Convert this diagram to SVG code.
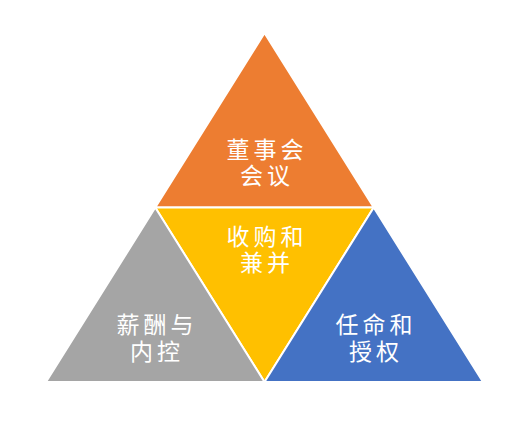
<svg xmlns="http://www.w3.org/2000/svg" width="523" height="436" viewBox="0 0 523 436">
<style>
.tri{stroke:#FFFFFF;stroke-width:2;stroke-linejoin:miter}
.lbl{font-family:"Noto Sans CJK SC","Noto Sans",sans-serif;font-size:23px;fill:#FFFFFF;text-anchor:middle;letter-spacing:4px}
</style>
<rect width="523" height="436" fill="#FFFFFF"/>
<g id="top">
<polygon class="tri" fill="#ED7D31" points="264.5,33 373.75,207.5 155.25,207.5"/>
<text class="lbl" x="267" y="158">董事会</text>
<text class="lbl" x="267" y="184">会议</text>
</g>
<g id="center">
<polygon class="tri" fill="#FFC000" points="155.25,207.5 373.75,207.5 264.5,382"/>
<text class="lbl" x="267" y="245">收购和</text>
<text class="lbl" x="267" y="271">兼并</text>
</g>
<g id="left">
<polygon class="tri" fill="#A5A5A5" points="155.25,207.5 264.5,382 46,382"/>
<text class="lbl" x="157" y="333">薪酬与</text>
<text class="lbl" x="157" y="360">内控</text>
</g>
<g id="right">
<polygon class="tri" fill="#4472C4" points="373.75,207.5 483,382 264.5,382"/>
<text class="lbl" x="376" y="333">任命和</text>
<text class="lbl" x="376" y="360">授权</text>
</g>
<g id="connectors"></g>
</svg>
